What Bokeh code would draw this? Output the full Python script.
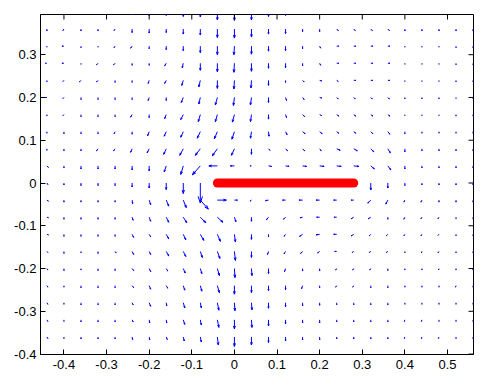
import math
from bokeh.plotting import figure
from bokeh.models import Range1d, FixedTicker
from bokeh.embed import file_html
from bokeh.resources import INLINE

# grid of the vector field (data coordinates)
X_GRID = [-0.44, -0.40, -0.36, -0.32, -0.28, -0.24, -0.20, -0.16, -0.12, -0.08, -0.04, 0.0,
          0.04, 0.08, 0.12, 0.16, 0.20, 0.24, 0.28, 0.32, 0.36, 0.40, 0.44, 0.48, 0.52, 0.56]
Y_GRID = [0.40, 0.36, 0.32, 0.28, 0.24, 0.20, 0.16, 0.12, 0.08, 0.04, 0.0,
          -0.04, -0.08, -0.12, -0.16, -0.20, -0.24, -0.28, -0.32, -0.36, -0.40]

# vector components, one row per Y_GRID value (relative units)
U_ROWS = [
    [0, -1, 0, 0, -1, 0, 0, 0, 0, 0, 0, 0, 0, 0, 0, 0, 0, 1.5, 1.5, 1.5, 1.5, 0, 0, 0, 0, 0],
    [0, -1, 0, 0, -1, 0, 0, 0, 0, 0, 0, 0, 0, 0, 0, 0, 0, 1.5, 1.5, 1.5, 1.5, 0, 0, 0, 0, 0],
    [0, -2, 0, 0, -1, -1.5, 0, 0, 0, 0, 0, -0.5, 0, 0, 0, 0, 1, 2, 2, 2, 2, 0, 0, 0, 0, 0],
    [-1.5, -2, 0, -1.5, -1.5, 0, 0, -1.5, -1, 0, 0, -0.5, 0, 0, 0, 0, 1, 2, 2, 2, 2, 0, 0, 0, 0, 0],
    [0, -1, -1.5, -1.5, 0, 0, -1, -1.5, -1.5, -1.5, 0, -0.5, -0.5, 0, 0, 1.5, 2, 1.5, 2, 2, 2, 0, 0, 0, 0, 0],
    [-1.5, -1, 0, 0, 0, 0, -1, 0, -2, -1.5, -2, -1, -1, 0, 1, 1.5, 2, 1.5, 1.5, 1.5, 1.5, 0, 0, 0, 0, 0],
    [0, -1, 0, 0, 0, -1.5, 0, -1.5, -2.5, -2, -2, -2, -1, 0, 1, 2, 2, 2, 2, 2, 2, 0, 0, 0, 0, 0],
    [0, 0, 0, 0, -1, 0, -1.5, -2, -2.5, -3, -3, -2.5, -1, 0.5, 1.5, 2.5, 2.5, 2, 2, 2, 2, 0, 0, 0, 0, 0],
    [0, 0, 0, -1.5, -1.5, -1.5, -2, -2.5, -3.5, -5, -5, -3, 0, 1.5, 2, 2, 1.5, 3.5, 3.5, 3, 2.5, 0, 0, 0, 0, 0],
    [1.5, 0, 0, 0, 0, 0, 0, -2, -2.5, -8, -8.5, -4, -1.5, 3, 3.5, 4, 4.5, 4.5, 5, 3.5, 3, 0, 0, 0, 0, 0],
    [1, 0, 0, 0, 0, 0, 0, 0, 0, 0, 0, 0, 0, 0, 0, 0, 0, 0, 0, 0, 0, 0, 0, 0, 0, 0],
    [1.5, 0, 0, 0, 0, 0.5, 1.5, 2.5, 3, 8, 9, 3, -1.5, -3, -3, -3.5, -3.5, -3, -2.5, -3, -2, -1, -1, 0, 0, 0],
    [1.5, 0, 0, 0, 0, 1, 1.5, 2.5, 3.5, 5.5, 5.5, 1.5, 0, -2, -2, -2.5, -3, -2.5, -2.5, -2.5, 0, -1, -1, -1, 0, 0],
    [1.5, 0, 0, 0, 0, 1.5, 1.5, 2.5, 2.5, 3.5, 3, 1, 0, 0, -1.5, -3, -3.5, -3, -2.5, -1.5, -1.5, -1, -1, -1, 0, 0],
    [1, 0, 0, 0, 1, 1.5, 1.5, 2.5, 2.5, 2, 2.5, 1, 0, -1, -1.5, -2, -2, -2, -1.5, -1.5, -1.5, 0, -0.5, -1, 0, 0],
    [1, 0, 0, 0, 0, 1.5, 1.5, 1.5, 2, 1.5, 2, 0.5, 0.5, 0, -1, 0, 0, -1, -1, -1, 0, 0, 0, -0.5, 0, 0],
    [1, 0, 0, 0, 0, 1.5, 1.5, 1.5, 1.5, 1.5, 2, 0, 0, 0, 0, -1, 0, -1, -1, 0, 0, 0, 0, 0, -0.5, 0],
    [1, 0, 0, 0, 0, 1, 1.5, 0.5, 1.5, 1, 1.5, 0.5, 0.5, 0, 0, 0, 0, 0, 0, 0, 0, 0, 0, 0, 0, 0],
    [1, 0, 0, 0, 0, 1, 0.5, 0.5, 1.5, 1, 1.5, 0, 0.5, 0, 0, 0, 0, 0, 0, 0, 0, -0.5, -0.5, 0, 0, 0],
    [1, 0, 0, 0, 0, 0.5, 0.5, 1, 1, 1, 1, 0, 0, 0, 0, 0, 0, 0, 0, 0, 0, -0.5, -0.5, -0.5, 0, 0],
    [1, 0, 0, 0, 0, 0.5, 0.5, 1, 1, 1, 1, 0, 0, 0, 0, 0, 0, 0, 0, 0, 0, -0.5, -0.5, -0.5, 0, 0],
]
V_ROWS = [
    [-2, -1.5, -2, -2, -1.5, -3, -3.5, -3.5, -4.5, -5, -8, -8.5, -8, -4.5, -3.5, -2.5, -2.5, -1.5, -1.5, -1.5, -1.5, -2, -2, -2, -2, -2],
    [-2, -1.5, -2, -2, -1.5, -3.5, -4, -3.5, -5, -6, -8.5, -9, -8, -5, -4.5, -2.5, -2.5, -1.5, -1.5, -1.5, -1.5, -2, -2, -2, -2, -2],
    [-1, 0, -1.5, -1, -1.5, -2, -2.5, -3.5, -4.5, -6.5, -8.5, -8.5, -8, -5, -4.5, -2.5, -2, 0, 0, 0, 0, -1, -1, -1, -1.5, -1.5],
    [0, 0, -1, -1.5, -1.5, -2, -2, -2.5, -4.5, -7, -8.5, -9, -8, -5, -4.5, -2.5, -2, 0, 0, 0, 0, -1, -1, -1, -1.5, -1.5],
    [-1.5, -1, -1.5, -1.5, -2, -2, -3, -3, -5, -6.5, -8, -8.5, -7.5, -5, -2, -1.5, -0.5, -1, 0, 0, 0, -1, -1, -1, -1.5, -1.5],
    [0, -1, -2, -2, -2, -2, -3, -3, -5, -6.5, -7.5, -8, -7.5, -5, -3, -2, -0.5, -1.5, -1.5, -1.5, -1.5, -1.5, -1.5, -1.5, -1, -1],
    [-1.5, -1, -2, -2, -2, -2.5, -3, -4, -5, -7, -7, -7.5, -7, -4.5, -3, -2, -1, -1.5, -1.5, -1.5, -1.5, -1, -1, -1, -1.5, -1.5],
    [-1.5, -2, -2, -2, -2, -2.5, -4, -4.5, -5.5, -6.5, -7, -7.5, -6.5, -4.5, -3, -2, -2, -1.5, -1.5, -2, -2.5, -2, -1.5, -1.5, -1.5, -1.5],
    [-1.5, -2, -2, -2, -2, -3.5, -4, -5.5, -6.5, -6.5, -7, -6.5, -5.5, -1.5, -2, -2, -2, -1.5, -2, -3, -4, -3, -2, -2, -2, -2],
    [-1.5, -2, -3, -3, -3, -4, -5, -6, -8.5, -9, 0, 0, 0, -0.5, -0.5, -0.5, -0.5, -0.5, -0.5, -3, -4, -3, -2, -2, -2, -2],
    [-1.5, -2, -2.5, -2.5, -2.5, -4, -5, -6.5, -10.5, -20, 0, 0, 0, 0, 0, 0, 0, 0, 0, -7, -5, -2.5, -2, -2, -2, -2],
    [-1, -2, -2, -2, -2, -3.5, -4.5, -6, -7.5, -9, 0, 0, -1, -0.5, 0, 0, 0, 0, 0, -3, -4, -2, -2, -2, -2, -2],
    [-0.5, -2, -2, -2, -2, -3, -4, -5, -5.5, -5.5, -5, -4.5, -4, -2.5, -2, -0.5, 0, 0, -1.5, -1.5, -2, -2, -1.5, -1.5, -1.5, -1.5],
    [-0.5, -2, -2, -2, -2, -3, -2.5, -4.5, -5.5, -6, -7, -7.5, -5, -2.5, -2, -2, -0.5, 0, -1.5, -1.5, -1.5, -1.5, -1.5, -1, -1.5, -1.5],
    [-1, -2, -1.5, -2, -1.5, -3, -3, -4.5, -5, -6, -7, -9, -6, -3, -2.5, -2, -1.5, 0, -1, -1, -1, -1.5, -1.5, -1.5, -1.5, -1.5],
    [-1.5, -2, -1.5, -2, -2, -2, -3, -2.5, -4.5, -5, -7, -9, -7, -5, -3, -2.5, -2.5, -1.5, -1.5, -1.5, -2, -1.5, -1.5, -1.5, -1.5, -1.5],
    [-1.5, -1.5, -2, -2, -2, -2, -3.5, -2.5, -4.5, -5.5, -7, -8.5, -7, -5, -4, -3, -2, -1.5, -1.5, -2, -2, -1.5, -1.5, -1.5, -1.5, -1.5],
    [-1.5, -1.5, -2, -2, -2, -2, -3.5, -3, -5, -5, -7.5, -8, -7, -5.5, -4, -3, -2.5, -2, -2, -2, -2, -1.5, -1.5, -1.5, -1.5, -1.5],
    [-1.5, -1.5, -2, -2, -2, -2, -3, -3, -4.5, -5, -7.5, -9, -7.5, -6, -4, -3, -3, -2, -2, -2, -2, -1.5, -1.5, -1.5, -1.5, -1.5],
    [-1.5, -1.5, -2, -2, -2, -2.5, -3, -2.5, -4, -5, -8, -9.5, -8, -5.5, -4, -3, -3, -2, -2, -2, -2, -1.5, -1.5, -1.5, -1.5, -1.5],
    [-1.5, -1.5, -2, -2, -2, -2.5, -3, -2.5, -4, -5, -8, -9.5, -8, -5.5, -4, -3, -3, -2, -2, -2, -2, -1.5, -1.5, -1.5, -1.5, -1.5],
]

# the plate (thick red segment)
SEG_X = [-0.04, 0.28]
SEG_Y = [0.0, 0.0]

X_TICKS = [-0.4, -0.3, -0.2, -0.1, 0, 0.1, 0.2, 0.3, 0.4, 0.5]
X_TICK_LABELS = ["-0.4", "-0.3", "-0.2", "-0.1", "0", "0.1", "0.2", "0.3", "0.4", "0.5"]
Y_TICKS = [-0.4, -0.3, -0.2, -0.1, 0, 0.1, 0.2, 0.3]
Y_TICK_LABELS = ["-0.4", "-0.3", "-0.2", "-0.1", "0", "0.1", "0.2", "0.3"]

X_LIM = (-0.455, 0.561)
Y_LIM = (-0.401, 0.394)

SCALE = 1.0 / 427.0   # quiver scale: data units per vector unit
ALPHA = 0.33          # arrow head length relative to vector
BETA = 0.33           # arrow head width relative to vector

FONT = "Liberation Sans"

p = figure(width=487, height=386,
           x_range=Range1d(*X_LIM), y_range=Range1d(*Y_LIM),
           output_backend="svg", toolbar_location=None,
           min_border_left=40, min_border_right=14, min_border_top=14, min_border_bottom=32)
p.background_fill_color = "white"
p.border_fill_color = "white"
p.outline_line_color = "black"
p.xgrid.visible = False
p.ygrid.visible = False

# quiver arrows
xs, ys = [], []
for j, yv in enumerate(Y_GRID):
    for i, xv in enumerate(X_GRID):
        u = U_ROWS[j][i] * SCALE
        v = V_ROWS[j][i] * SCALE
        if u == 0 and v == 0:
            continue
        xs.append([xv, xv + u])
        ys.append([yv, yv + v])
        xs.append([xv + u - ALPHA * (u + BETA * v), xv + u, xv + u - ALPHA * (u - BETA * v)])
        ys.append([yv + v - ALPHA * (v - BETA * u), yv + v, yv + v - ALPHA * (v + BETA * u)])
p.multi_line(xs, ys, line_color="#0000ff", line_width=1)

p.line(SEG_X, SEG_Y, line_color="#ff0000", line_width=9, line_cap="round")

# mirrored inward ticks on the top and right edges (markers clipped by the frame)
p.scatter(X_TICKS, [Y_LIM[1]] * len(X_TICKS), marker="dash", size=10, angle=math.pi / 2,
          line_color="black", line_width=1)
p.scatter([X_LIM[1]] * len(Y_TICKS), Y_TICKS, marker="dash", size=10,
          line_color="black", line_width=1)

def style_axis(ax, ticks, labels, standoff):
    ax.ticker = FixedTicker(ticks=ticks)
    ax.major_label_overrides = {t: l for t, l in zip(ticks, labels)}
    ax.axis_line_color = "black"
    ax.axis_line_width = 1
    ax.major_tick_line_color = "black"
    ax.major_tick_in = 5
    ax.major_tick_out = 0
    ax.minor_tick_line_color = None
    ax.major_label_text_font = FONT
    ax.major_label_text_color = "black"
    ax.major_label_text_font_size = "13px"
    ax.major_label_standoff = standoff

style_axis(p.xaxis[0], X_TICKS, X_TICK_LABELS, 5)
style_axis(p.yaxis[0], Y_TICKS, Y_TICK_LABELS, 4)

open("out.html", "w").write(file_html(p, INLINE))
